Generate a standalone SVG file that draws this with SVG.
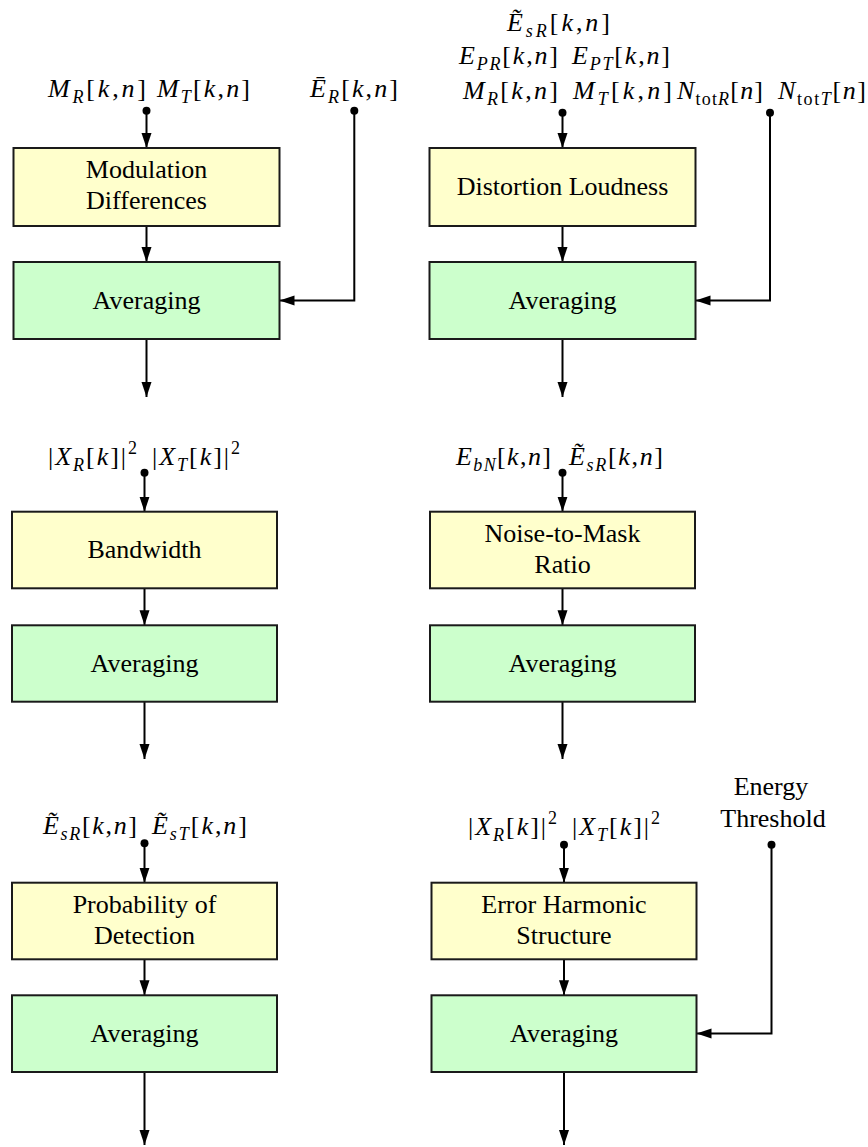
<svg xmlns="http://www.w3.org/2000/svg" width="868" height="1147" viewBox="0 0 868 1147">
<style>
.bg{fill:#ffffff}
.y{fill:#ffffcc;stroke:#1a1a1a;stroke-width:2}
.g{fill:#ccffcc;stroke:#1a1a1a;stroke-width:2}
.t{font-size:26px;fill:#000;text-anchor:middle}
.m{font-size:26px;fill:#000}
.i{font-style:italic}
.s{font-size:18px}
.c{fill:none;stroke:#000;stroke-width:2}
.d{fill:#000}
</style>
<defs>
<marker id="ah" markerUnits="userSpaceOnUse" markerWidth="16" markerHeight="11" refX="15" refY="5" orient="auto">
<path d="M0,0 L15,5 L0,10 z" fill="#000"/>
</marker>
</defs>
<rect class="bg" x="0" y="0" width="868" height="1147"/>

<g id="connectors">
<line class="c" x1="146.5" y1="110.7" x2="146.5" y2="148" marker-end="url(#ah)"/>
<line class="c" x1="146.5" y1="226" x2="146.5" y2="262" marker-end="url(#ah)"/>
<line class="c" x1="146.5" y1="339" x2="146.5" y2="397" marker-end="url(#ah)"/>
<polyline class="c" points="354.3,110.7 354.3,300.5 279.5,300.5" marker-end="url(#ah)"/>
<circle class="d" cx="146.5" cy="110.7" r="4"/>
<circle class="d" cx="354.3" cy="110.7" r="4"/>
<line class="c" x1="562.5" y1="112.7" x2="562.5" y2="148" marker-end="url(#ah)"/>
<line class="c" x1="562.5" y1="226" x2="562.5" y2="262" marker-end="url(#ah)"/>
<line class="c" x1="562.5" y1="339" x2="562.5" y2="397" marker-end="url(#ah)"/>
<polyline class="c" points="770,112.7 770,300.5 695.5,300.5" marker-end="url(#ah)"/>
<circle class="d" cx="562.5" cy="112.7" r="4"/>
<circle class="d" cx="770" cy="112.7" r="4"/>
<line class="c" x1="144.5" y1="472.7" x2="144.5" y2="511.7" marker-end="url(#ah)"/>
<line class="c" x1="144.5" y1="588.3" x2="144.5" y2="625.3" marker-end="url(#ah)"/>
<line class="c" x1="144.5" y1="701.7" x2="144.5" y2="759" marker-end="url(#ah)"/>
<circle class="d" cx="144.5" cy="472.7" r="4"/>
<line class="c" x1="562.5" y1="472.7" x2="562.5" y2="511.7" marker-end="url(#ah)"/>
<line class="c" x1="562.5" y1="588.3" x2="562.5" y2="625.3" marker-end="url(#ah)"/>
<line class="c" x1="562.5" y1="701.7" x2="562.5" y2="759" marker-end="url(#ah)"/>
<circle class="d" cx="562.5" cy="472.7" r="4"/>
<line class="c" x1="144.5" y1="843.3" x2="144.5" y2="882.7" marker-end="url(#ah)"/>
<line class="c" x1="144.5" y1="959.3" x2="144.5" y2="995.3" marker-end="url(#ah)"/>
<line class="c" x1="144.5" y1="1072" x2="144.5" y2="1145" marker-end="url(#ah)"/>
<circle class="d" cx="144.5" cy="843.3" r="4"/>
<line class="c" x1="564" y1="844.7" x2="564" y2="882.7" marker-end="url(#ah)"/>
<line class="c" x1="564" y1="959.3" x2="564" y2="995.3" marker-end="url(#ah)"/>
<line class="c" x1="564" y1="1072" x2="564" y2="1145" marker-end="url(#ah)"/>
<polyline class="c" points="771.5,844.7 771.5,1033.5 696.5,1033.5" marker-end="url(#ah)"/>
<circle class="d" cx="564" cy="844.7" r="4"/>
<circle class="d" cx="771.5" cy="844.7" r="4"/>
</g>

<g font-family="'Liberation Serif', 'Times New Roman', 'DejaVu Serif', serif">
<g id="modulation-differences">
<rect class="y" x="13.5" y="148" width="266" height="78"/>
<text class="t" x="146.5" y="178">Modulation</text>
<text class="t" x="146.5" y="209">Differences</text>
</g>
<g id="averaging-1">
<rect class="g" x="13.5" y="262" width="266" height="77"/>
<text class="t" x="146.5" y="308.5">Averaging</text>
</g>
<g id="distortion-loudness">
<rect class="y" x="429.5" y="148" width="266" height="78"/>
<text class="t" x="562.5" y="194.5">Distortion Loudness</text>
</g>
<g id="averaging-2">
<rect class="g" x="429.5" y="262" width="266" height="77"/>
<text class="t" x="562.5" y="308.5">Averaging</text>
</g>
<g id="bandwidth">
<rect class="y" x="12" y="511.7" width="265" height="76.6"/>
<text class="t" x="144.5" y="558">Bandwidth</text>
</g>
<g id="averaging-3">
<rect class="g" x="12" y="625.3" width="265" height="76.4"/>
<text class="t" x="144.5" y="671.5">Averaging</text>
</g>
<g id="noise-to-mask-ratio">
<rect class="y" x="430" y="511.7" width="265" height="76.6"/>
<text class="t" x="562.5" y="541.7">Noise-to-Mask</text>
<text class="t" x="562.5" y="572.7">Ratio</text>
</g>
<g id="averaging-4">
<rect class="g" x="430" y="625.3" width="265" height="76.4"/>
<text class="t" x="562.5" y="671.5">Averaging</text>
</g>
<g id="probability-of-detection">
<rect class="y" x="12" y="882.7" width="265" height="76.6"/>
<text class="t" x="144.5" y="912.7">Probability of</text>
<text class="t" x="144.5" y="944">Detection</text>
</g>
<g id="averaging-5">
<rect class="g" x="12" y="995.3" width="265" height="76.7"/>
<text class="t" x="144.5" y="1042">Averaging</text>
</g>
<g id="error-harmonic-structure">
<rect class="y" x="431.5" y="882.7" width="265" height="76.6"/>
<text class="t" x="564" y="912.7">Error Harmonic</text>
<text class="t" x="564" y="944">Structure</text>
</g>
<g id="averaging-6">
<rect class="g" x="431.5" y="995.3" width="265" height="76.7"/>
<text class="t" x="564" y="1042">Averaging</text>
</g>

<g id="labels">
<text class="m" x="48" y="97" textLength="98" lengthAdjust="spacing"><tspan class="i">M</tspan><tspan class="i s" dy="6">R</tspan><tspan dy="-6">[</tspan><tspan class="i">k</tspan>,<tspan class="i">n</tspan>]</text>
<text class="m" x="157" y="97" textLength="93" lengthAdjust="spacing"><tspan class="i">M</tspan><tspan class="i s" dy="6">T</tspan><tspan dy="-6">[</tspan><tspan class="i">k</tspan>,<tspan class="i">n</tspan>]</text>
<text class="m" x="310" y="97" textLength="88" lengthAdjust="spacing"><tspan class="i">Ē</tspan><tspan class="i s" dy="6">R</tspan><tspan dy="-6">[</tspan><tspan class="i">k</tspan>,<tspan class="i">n</tspan>]</text>
<text class="m" x="507" y="31" textLength="103" lengthAdjust="spacing"><tspan class="i">Ẽ</tspan><tspan class="i s" dy="6">sR</tspan><tspan dy="-6">[</tspan><tspan class="i">k</tspan>,<tspan class="i">n</tspan>]</text>
<text class="m" x="459" y="64" textLength="99" lengthAdjust="spacing"><tspan class="i">E</tspan><tspan class="i s" dy="6">PR</tspan><tspan dy="-6">[</tspan><tspan class="i">k</tspan>,<tspan class="i">n</tspan>]</text>
<text class="m" x="572" y="64" textLength="98" lengthAdjust="spacing"><tspan class="i">E</tspan><tspan class="i s" dy="6">PT</tspan><tspan dy="-6">[</tspan><tspan class="i">k</tspan>,<tspan class="i">n</tspan>]</text>
<text class="m" x="463" y="99" textLength="95" lengthAdjust="spacing"><tspan class="i">M</tspan><tspan class="i s" dy="6">R</tspan><tspan dy="-6">[</tspan><tspan class="i">k</tspan>,<tspan class="i">n</tspan>]</text>
<text class="m" x="573" y="99" textLength="99" lengthAdjust="spacing"><tspan class="i">M</tspan><tspan class="i s" dy="6">T</tspan><tspan dy="-6">[</tspan><tspan class="i">k</tspan>,<tspan class="i">n</tspan>]</text>
<text class="m" x="677" y="99" textLength="86" lengthAdjust="spacing"><tspan class="i">N</tspan><tspan class="s" dy="6">tot</tspan><tspan class="i s">R</tspan><tspan dy="-6">[</tspan><tspan class="i">n</tspan>]</text>
<text class="m" x="778" y="99" textLength="88" lengthAdjust="spacing"><tspan class="i">N</tspan><tspan class="s" dy="6">tot</tspan><tspan class="i s">T</tspan><tspan dy="-6">[</tspan><tspan class="i">n</tspan>]</text>
<text class="m" x="48" y="465" textLength="89" lengthAdjust="spacing">|<tspan class="i">X</tspan><tspan class="i s" dy="6">R</tspan><tspan dy="-6">[</tspan><tspan class="i">k</tspan>]|<tspan class="s" dy="-11">2</tspan></text>
<text class="m" x="152" y="465" textLength="88" lengthAdjust="spacing">|<tspan class="i">X</tspan><tspan class="i s" dy="6">T</tspan><tspan dy="-6">[</tspan><tspan class="i">k</tspan>]|<tspan class="s" dy="-11">2</tspan></text>
<text class="m" x="456" y="465" textLength="95" lengthAdjust="spacing"><tspan class="i">E</tspan><tspan class="i s" dy="6">bN</tspan><tspan dy="-6">[</tspan><tspan class="i">k</tspan>,<tspan class="i">n</tspan>]</text>
<text class="m" x="569" y="465" textLength="94" lengthAdjust="spacing"><tspan class="i">Ẽ</tspan><tspan class="i s" dy="6">sR</tspan><tspan dy="-6">[</tspan><tspan class="i">k</tspan>,<tspan class="i">n</tspan>]</text>
<text class="m" x="43" y="834" textLength="94" lengthAdjust="spacing"><tspan class="i">Ẽ</tspan><tspan class="i s" dy="6">sR</tspan><tspan dy="-6">[</tspan><tspan class="i">k</tspan>,<tspan class="i">n</tspan>]</text>
<text class="m" x="152" y="834" textLength="95" lengthAdjust="spacing"><tspan class="i">Ẽ</tspan><tspan class="i s" dy="6">sT</tspan><tspan dy="-6">[</tspan><tspan class="i">k</tspan>,<tspan class="i">n</tspan>]</text>
<text class="m" x="468" y="835" textLength="89" lengthAdjust="spacing">|<tspan class="i">X</tspan><tspan class="i s" dy="6">R</tspan><tspan dy="-6">[</tspan><tspan class="i">k</tspan>]|<tspan class="s" dy="-11">2</tspan></text>
<text class="m" x="572" y="835" textLength="88" lengthAdjust="spacing">|<tspan class="i">X</tspan><tspan class="i s" dy="6">T</tspan><tspan dy="-6">[</tspan><tspan class="i">k</tspan>]|<tspan class="s" dy="-11">2</tspan></text>
<text class="t" x="771" y="795">Energy</text>
<text class="t" x="773" y="827">Threshold</text>
</g>
</g>
</svg>
